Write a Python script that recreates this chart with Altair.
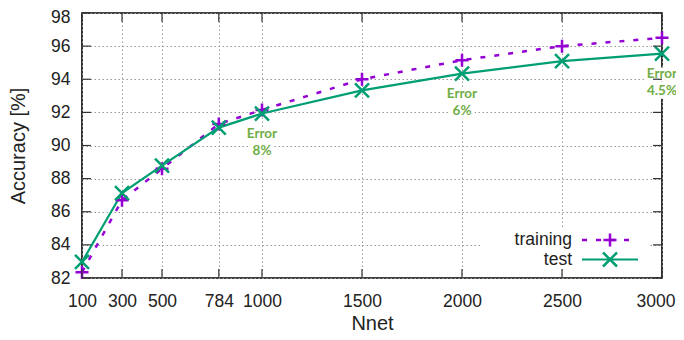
import altair as alt
import pandas as pd

# ---------------- data ----------------
nnet = [100, 300, 500, 784, 1000, 1500, 2000, 2500, 3000]
training = [82.35, 86.7, 88.6, 91.3, 92.15, 94.0, 95.15, 96.0, 96.5]
test = [82.97, 87.13, 88.78, 91.08, 91.93, 93.33, 94.34, 95.09, 95.55]
y_ticks = [82, 84, 86, 88, 90, 92, 94, 96, 98]
x_ticks = [100, 300, 500, 784, 1000, 1500, 2000, 2500, 3000]
ann_x = [1000, 2000, 3000]
ann_label = ["Error\n8%", "Error\n6%", "Error\n4.5%"]
legend_labels = ["training", "test"]

# ---------------- style ----------------
W, H = 580, 265
PURPLE = "#9400d3"
GREEN = "#009e73"
ANN = "#70ad47"
FONT = "Liberation Sans"
PLUS = "M-1,0L1,0M0,-1L0,1"
CROSS = "M-1,-1L1,1M-1,1L1,-1"

df = pd.DataFrame({"Nnet": nnet, "training": training, "test": test})
ann_df = pd.DataFrame({
    "Nnet": ann_x,
    "acc": [test[nnet.index(v)] for v in ann_x],
    "label": ann_label,
})
ytick_df = pd.DataFrame({"v": y_ticks})
xtick_df = pd.DataFrame({"v": x_ticks})
one = pd.DataFrame({"k": [0]})

x_axis = alt.Axis(
    values=x_ticks, format="d", title="Nnet", grid=True, ticks=False, domain=False,
    labelPadding=14, labelFontSize=17.5,
    labelAlign={"condition": {"test": "datum.value == 3000", "value": "right"}, "value": "center"},
    labelOffset={"condition": {"test": "datum.value == 3000", "value": 13}, "value": 0},
    titleX=W / 2, titleY=51, titleBaseline="alphabetic", titleAlign="center",
)
y_axis = alt.Axis(
    values=y_ticks, format="d", title="Accuracy [%]", grid=True, ticks=False, domain=False,
    labelPadding=12, labelFontSize=17.5,
    labelOffset={"condition": {"test": "datum.value == 98", "value": 4}, "value": 0},
    titleX=-64, titleY=H / 2, titleAngle=-90, titleAlign="center", titleBaseline="middle",
)
x_scale = alt.Scale(domain=[100, 3000], nice=False, zero=False)
y_scale = alt.Scale(domain=[82, 98], nice=False, zero=False)


def X(f):
    return alt.X(f"{f}:Q", scale=x_scale, axis=x_axis)


def Y(f):
    return alt.Y(f"{f}:Q", scale=y_scale, axis=y_axis)


base = alt.Chart(df)

train_line = base.mark_line(
    color=PURPLE, strokeWidth=2.5, strokeDash=[5, 9]
).encode(x=X("Nnet"), y=Y("training"))
test_line = base.mark_line(
    color=GREEN, strokeWidth=2.2
).encode(x=X("Nnet"), y=Y("test"))
train_pts = base.mark_point(
    shape=PLUS, filled=False, size=169, strokeWidth=2.5, color=PURPLE, opacity=1
).encode(x=X("Nnet"), y=Y("training"))
test_pts = base.mark_point(
    shape=CROSS, filled=False, size=196, strokeWidth=2.5, color=GREEN, opacity=1
).encode(x=X("Nnet"), y=Y("test"))

ann_common = dict(font="Lato", fontWeight="bold", fontSize=13.5, lineBreak="\n",
                  lineHeight=17, baseline="middle", align="center", dy=20)
ann_halo = alt.Chart(ann_df).mark_text(
    color="white", stroke="white", strokeWidth=7, **ann_common
).encode(x=X("Nnet"), y=Y("acc"), text="label:N")
ann_text = alt.Chart(ann_df).mark_text(color=ANN, **ann_common).encode(
    x=X("Nnet"), y=Y("acc"), text="label:N")

# legend (drawn inside plot, bottom right)
leg_box = alt.Chart(one).mark_rect(fill="white").encode(
    x=alt.value(398), x2=alt.value(566), y=alt.value(216), y2=alt.value(255))
leg_rows = []
for i, (lab, col, shp, sz, dash) in enumerate([
    (legend_labels[0], PURPLE, PLUS, 169, [5, 9]),
    (legend_labels[1], GREEN, CROSS, 196, [1, 0]),
]):
    yy = 227 + i * 19.5
    d = pd.DataFrame({"label": [lab]})
    leg_rows.append(alt.Chart(d).mark_text(
        font=FONT, fontSize=17.5, align="right", baseline="middle", color="#222"
    ).encode(text="label:N", x=alt.value(490), y=alt.value(yy)))
    leg_rows.append(alt.Chart(d).mark_rule(
        color=col, strokeWidth=2.5 if i == 0 else 2.2, strokeDash=dash
    ).encode(x=alt.value(500), x2=alt.value(556), y=alt.value(yy)))
    leg_rows.append(alt.Chart(d).mark_point(
        shape=shp, filled=False, size=sz, strokeWidth=2.5, color=col, opacity=1
    ).encode(x=alt.value(528), y=alt.value(yy)))

# inward ticks on all four sides
TL = 9
tick_style = dict(color="#333", strokeWidth=1.2)
yt = alt.Chart(ytick_df)
xt = alt.Chart(xtick_df)
ticks = [
    yt.mark_rule(**tick_style).encode(y=Y("v"), x=alt.value(0), x2=alt.value(TL)),
    yt.mark_rule(**tick_style).encode(y=Y("v"), x=alt.value(W - TL), x2=alt.value(W)),
    xt.mark_rule(**tick_style).encode(x=X("v"), y=alt.value(H - TL), y2=alt.value(H)),
    xt.mark_rule(**tick_style).encode(x=X("v"), y=alt.value(0), y2=alt.value(TL)),
]

chart = alt.layer(
    leg_box, ann_halo, train_line, test_line, train_pts, test_pts, ann_text,
    *leg_rows, *ticks
).properties(
    width=W, height=H,
    autosize=alt.AutoSizeParams(type="none"),
    padding={"left": 74, "top": 5, "right": 14, "bottom": 54},
    background="white",
).configure_view(
    stroke="black", strokeWidth=1.6
).configure_axis(
    labelFont=FONT, titleFont=FONT, labelColor="#222", titleColor="#222",
    titleFontSize=20, titleFontWeight="normal",
    gridColor="#999", gridDash=[1.5, 2.5], gridWidth=1,
)

chart.save("out.html", embed_options={"renderer": "svg", "actions": False})
